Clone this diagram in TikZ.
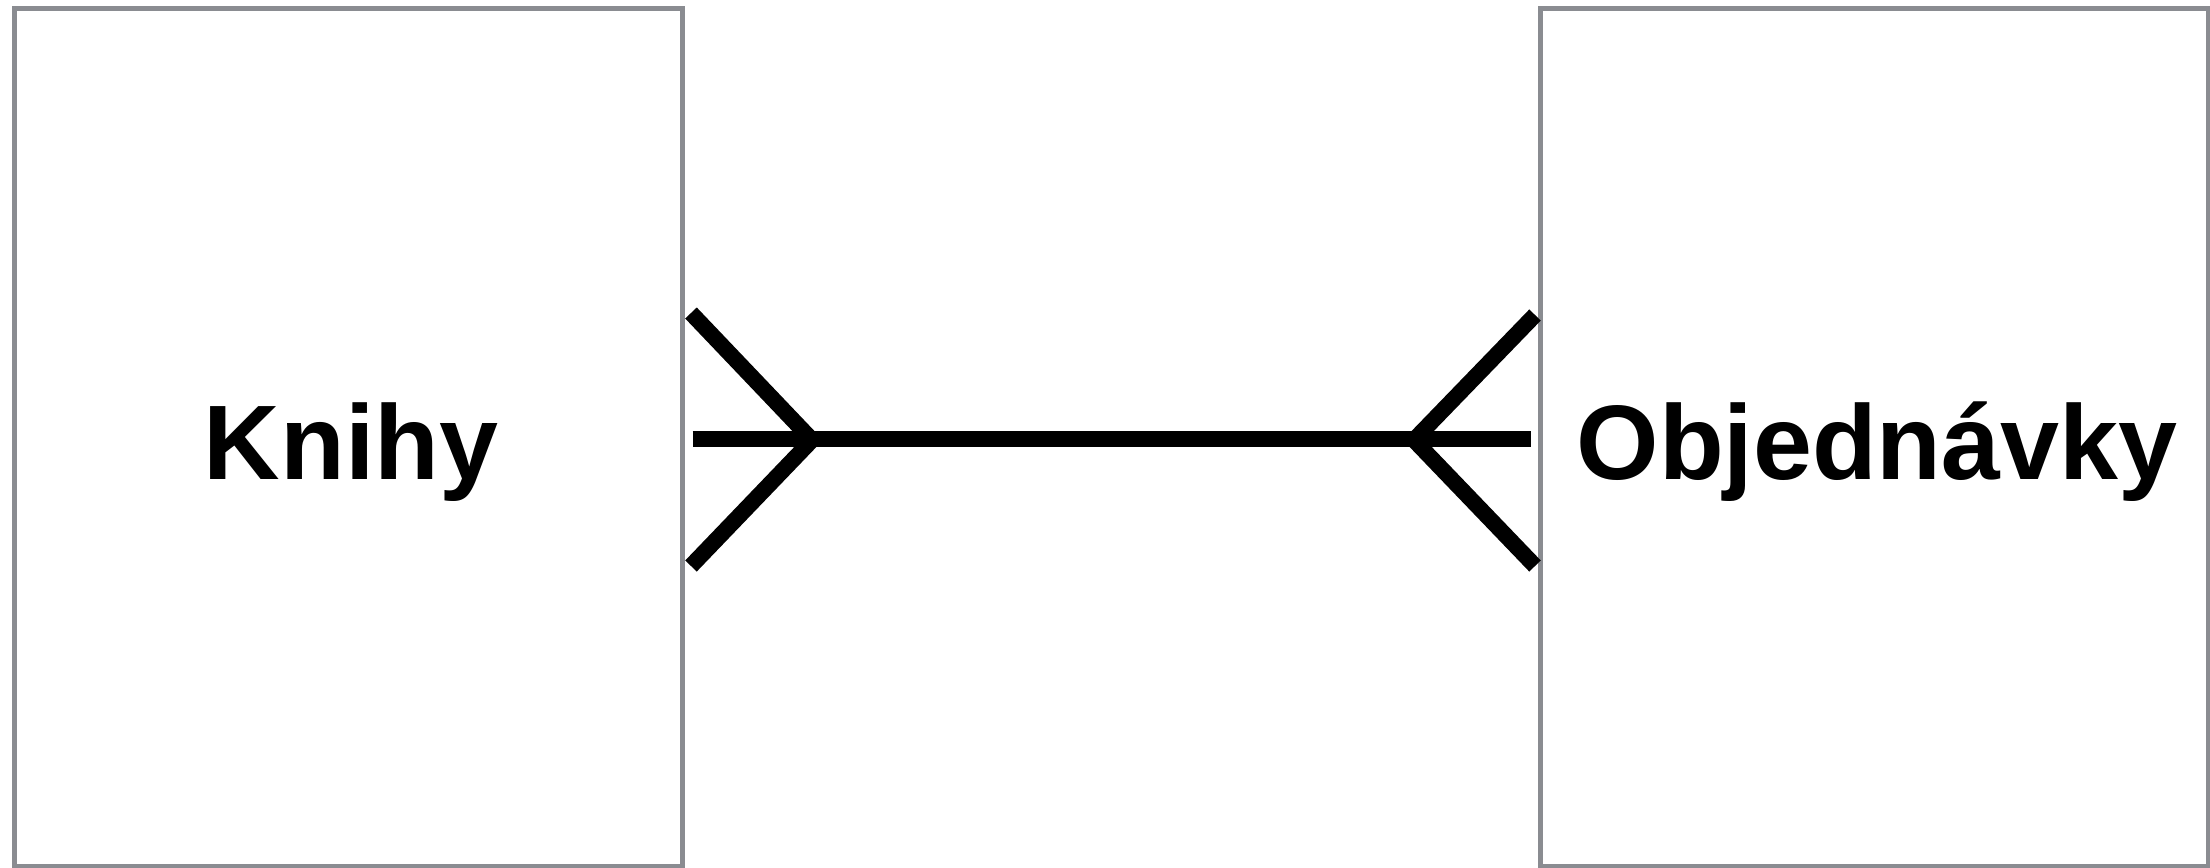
\documentclass[tikz,border=0pt]{standalone}
\usepackage{fontspec}
\setmainfont{Liberation Sans}
\definecolor{boxgray}{HTML}{8A8C91}
\begin{document}
\begin{tikzpicture}[x=1pt,y=-1pt,
  entity/.style={draw=boxgray,line width=5pt,fill=white,inner sep=0pt,rectangle},
  rel/.style={draw=black,line width=16pt,line cap=butt},
  lbl/.style={inner sep=0pt,anchor=base,font=\fontsize{106}{120}\selectfont\bfseries}]
\useasboundingbox (0,0) rectangle (2210,867);
\node[entity,minimum width=668pt,minimum height=857pt] (kbox) at (348.5,437.5) {};
\node[entity,minimum width=667.5pt,minimum height=857pt] (obox) at (1874.25,437.5) {};
\node[lbl] (ktext) at (351,479) {Knihy};
\node[lbl] (otext) at (1877,479) {Objednávky};
\coordinate (la) at (812,440);
\coordinate (lt) at (691,313);
\coordinate (lb) at (691,566);
\coordinate (ra) at (1414,440);
\coordinate (rt) at (1535,315);
\coordinate (rb) at (1535,566);
\draw[rel] ([shift={(7.5,1.5)}]kbox.east) -- ([shift={(-7.5,1.5)}]obox.west);
\draw[rel] (lt) -- (la);
\draw[rel] (lb) -- (la);
\draw[rel] (rt) -- (ra);
\draw[rel] (rb) -- (ra);
\end{tikzpicture}
\end{document}
